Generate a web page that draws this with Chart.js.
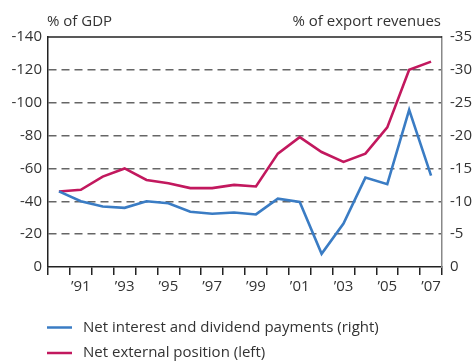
<!DOCTYPE html>
<html><head><meta charset="utf-8">
<script src="https://cdn.jsdelivr.net/npm/chart.js@4/dist/chart.umd.min.js"></script>
<style>html,body{margin:0;padding:0;background:#fff}#w{width:473px;height:361px;position:relative}</style>
</head><body><div id="w"><canvas id="c" width="473" height="361"></canvas></div>
<script>
const years = ["1990","1991","1992","1993","1994","1995","1996","1997","1998","1999","2000","2001","2002","2003","2004","2005","2006","2007"];
const netExternalPosition = [-46,-47,-55,-60,-53,-51,-48,-48,-50,-49,-69,-79,-70,-64,-69,-85,-120,-125];
const netInterestDividend = [-11.5,-10,-9.2,-9,-10,-9.7,-8.4,-8.1,-8.3,-8,-10.4,-9.9,-2,-6.6,-13.6,-12.6,-23.9,-13.9];
const leftTitle = "% of GDP";
const rightTitle = "% of export revenues";
const legendLabels = ["Net interest and dividend payments (right)","Net external position (left)"];
const BLUE = "#3a7cc4", RED = "#c2185e";
const FONT = "'Open Sans', sans-serif";

const deco = {
  id:'deco',
  afterDraw(chart){
    const ctx = chart.ctx, a = chart.chartArea;
    ctx.save();
    ctx.strokeStyle = '#222'; ctx.lineWidth = 1.5;
    ctx.beginPath(); ctx.moveTo(a.left, a.top); ctx.lineTo(a.right, a.top); ctx.stroke();
    ctx.fillStyle = '#333';
    ctx.font = "15px " + FONT;
    ctx.textBaseline = 'alphabetic';
    ctx.textAlign = 'left'; ctx.fillText(leftTitle, 47, 26);
    ctx.textAlign = 'right'; ctx.fillText(rightTitle, 441, 26);
    const cols = [BLUE, RED], ys = [327.5, 353];
    ctx.textAlign = 'left'; ctx.textBaseline = 'middle';
    for (let i=0;i<2;i++){
      ctx.strokeStyle = cols[i]; ctx.lineWidth = 2.5;
      ctx.beginPath(); ctx.moveTo(47, ys[i]); ctx.lineTo(72, ys[i]); ctx.stroke();
      ctx.fillStyle = '#333';
      ctx.fillText(legendLabels[i], 83, ys[i]);
    }
    ctx.restore();
  }
};

new Chart(document.getElementById('c'), {
  type:'line',
  data:{ labels: years, datasets:[
    {label:legendLabels[0], data: netInterestDividend, yAxisID:'y2', borderColor:BLUE, borderWidth:2.6, pointRadius:0, tension:0},
    {label:legendLabels[1], data: netExternalPosition, yAxisID:'y', borderColor:RED, borderWidth:2.6, pointRadius:0, tension:0}
  ]},
  options:{
    responsive:false, animation:false,
    layout:{padding:{left:0,right:0,top:37,bottom:64}},
    plugins:{legend:{display:false}, tooltip:{enabled:false}},
    scales:{
      x:{ offset:true,
        afterFit(s){ s.height = 30; },
        grid:{ offset:true, drawOnChartArea:false, drawTicks:true, tickLength:8, color:'#222', lineWidth:1.5 },
        border:{ color:'#222', width:1.5 },
        ticks:{ autoSkip:false, maxRotation:0, padding:3, color:'#333', font:{family:FONT, size:15},
          callback(v,i){ const y = parseInt(years[i]); return (y % 2 === 1) ? '\u2019' + String(y).slice(2) : ''; } }
      },
      y:{ position:'left', reverse:true, min:-140, max:0,
        afterFit(s){ s.width = 48; },
        ticks:{ stepSize:20, padding:6, color:'#333', font:{family:FONT, size:15} },
        grid:{ drawTicks:false, lineWidth:1.4,
          color(c){ const v = c.tick.value; return (v===0||v===-140)?'rgba(0,0,0,0)':'#666'; } },
        border:{ color:'#222', width:1.5, dash:[8,5] }
      },
      y2:{ position:'right', reverse:true, min:-35, max:0,
        afterFit(s){ s.width = 31; },
        ticks:{ stepSize:5, padding:8, color:'#333', font:{family:FONT, size:15} },
        grid:{ drawOnChartArea:false, drawTicks:false },
        border:{ color:'#888', width:1.5 }
      }
    }
  },
  plugins:[deco]
});
</script></body></html>
